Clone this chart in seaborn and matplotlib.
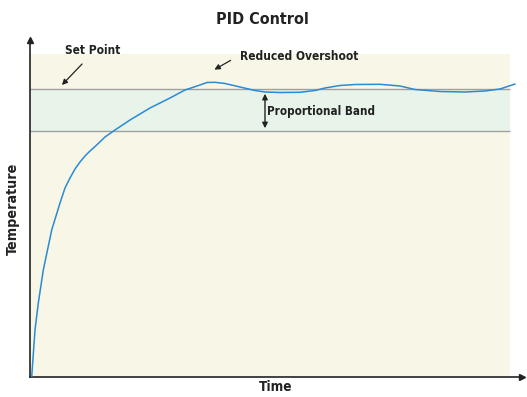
import matplotlib
matplotlib.use("Agg")
import matplotlib.pyplot as plt
import seaborn as sns
import pandas as pd
from matplotlib import font_manager

sns.set_theme(style="white")
plt.rcParams["font.family"] = ["DejaVu Sans"]
plt.rcParams["font.stretch"] = "condensed"
cond = [f.fname for f in font_manager.fontManager.ttflist if "Condensed-Bold." in f.fname and "DejaVuSans" in f.fname]

# Data
time = [1.7, 5, 8.3, 13.3, 21.7, 30, 35, 40, 45, 50, 55, 60, 66.7, 75, 85, 100, 120, 140, 155, 170, 177, 185,
        195, 210, 225, 235, 250, 270, 285, 295, 310, 325, 350, 370, 385, 410, 435, 455, 470, 485]
temperature = [0, 47, 74, 107, 147, 174, 189, 199, 208, 215, 221, 226, 232, 240, 247, 257, 269, 279, 287, 292,
               294.5, 294.7, 293.5, 290, 286.5, 285, 284.5, 284.7, 286.5, 289, 291.5, 292.5, 292.7, 291, 287.5,
               285.5, 285, 286, 288, 293]
set_point = 288
band_low = 246
df = pd.DataFrame({"Time": time, "Temperature": temperature})

fig = plt.figure(figsize=(5.27, 3.97), dpi=100)
ax = fig.add_axes([30/527, 20/397, 492/527, 337/397])
ax.set_xlim(0, 492)
ax.set_ylim(0, 337)

ax.fill_between([0, 480], 0, 323, color="#f8f7e7", zorder=0, lw=0)
ax.fill_between([0, 480], band_low, set_point, color="#e8f3ea", zorder=1, lw=0)
ax.hlines([set_point, band_low], 0, 480, color="#a0a0a0", lw=1.0, zorder=2)

sns.lineplot(data=df, x="Time", y="Temperature", ax=ax, color="#2a8ad4", lw=1.1, zorder=3)

for s in ["top", "right"]:
    ax.spines[s].set_visible(False)
for s in ["left", "bottom"]:
    ax.spines[s].set_color("#222222")
    ax.spines[s].set_linewidth(1.2)
ax.set_xticks([]); ax.set_yticks([])
ax.plot(1, 0, ">", color="#222222", ms=4, transform=ax.transAxes, clip_on=False)
ax.plot(0, 1, "^", color="#222222", ms=4, transform=ax.transAxes, clip_on=False)

fp = dict(fontweight="bold", fontstretch="condensed")
if cond:
    from matplotlib.font_manager import FontProperties
    fpo = lambda size: FontProperties(fname=cond[0], size=size)
else:
    fpo = None

def T(size):
    return dict(fontproperties=fpo(size)) if fpo else dict(fontsize=size, **fp)

tc = "#222222"
ax.set_xlabel("Time", color=tc, labelpad=2, **T(9.8))
ax.set_ylabel("Temperature", color=tc, labelpad=7, **T(10.3))
fig.text(262/527, 1 - 19/397, "PID Control", ha="center", va="center", color=tc, **T(11.5))

ax.text(63, 327, "Set Point", ha="center", va="center", color=tc, **T(8.6))
ax.annotate("", xy=(30, 290), xytext=(54, 315),
            arrowprops=dict(arrowstyle="-|>", color=tc, lw=0.9, mutation_scale=8))
ax.text(210, 320, "Reduced Overshoot", ha="left", va="center", color=tc, **T(8.6))
ax.annotate("", xy=(182, 306), xytext=(203, 318),
            arrowprops=dict(arrowstyle="-|>", color=tc, lw=0.9, mutation_scale=8))
ax.annotate("", xy=(235, set_point - 2), xytext=(235, band_low),
            arrowprops=dict(arrowstyle="<|-|>", color=tc, lw=1.0, mutation_scale=8))
ax.text(237, 266, "Proportional Band", ha="left", va="center", color=tc, **T(8.4))

fig.savefig("out.png", dpi=100)
